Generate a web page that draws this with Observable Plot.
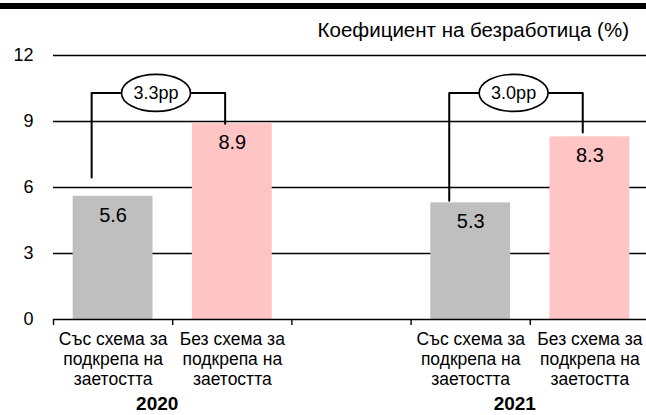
<!DOCTYPE html>
<html><head><meta charset="utf-8">
<script src="https://cdn.jsdelivr.net/npm/d3@7"></script>
<script src="https://cdn.jsdelivr.net/npm/@observablehq/plot@0.6"></script>
<style>
body{margin:0;background:#fff;font-family:"Liberation Sans",Arial,sans-serif;}
#wrap{position:relative;width:646px;height:415px;overflow:hidden;background:#fff}
#chart{position:absolute;left:0;top:0}
#topbar{position:absolute;left:0;top:3px;width:646px;height:6px;background:#000;z-index:2}
#title{position:absolute;right:17px;top:18px;font-size:20.5px;line-height:24px;color:#000;z-index:2;white-space:nowrap}
</style></head><body>
<div id="wrap"><div id="chart"></div><div id="topbar"></div><div id="title">Коефициент на безработица (%)</div></div>
<script>
const years = ["2020", "2021"];
const categories = ["Със схема за\nподкрепа на\nзаетостта", "Без схема за\nподкрепа на\nзаетостта"];
const withScheme = [5.6, 5.3];
const withoutScheme = [8.9, 8.3];
const gapLabels = ["3.3pp", "3.0pp"];
const bracketLeftLow = [6.45, 5.4];
const bracketRightLow = [8.9, 8.5];
const bracketTop = [10.3, 10.3];
const yTicks = [0, 3, 6, 9, 12];
const colors = ["#bfbfbf", "#ffc4c4"];

// build bar table: group g occupies slots g*3 and g*3+1 (slot g*3+2 empty)
const bars = [];
years.forEach((y, g) => {
  bars.push({year: y, k: 0, slot: g * 3, value: withScheme[g], cat: categories[0]});
  bars.push({year: y, k: 1, slot: g * 3 + 1, value: withoutScheme[g], cat: categories[1]});
});
const brackets = years.map((y, g) => ({
  g, label: gapLabels[g], top: bracketTop[g],
  xl: g * 3 + 0.32, xr: g * 3 + 1.44, xm: g * 3 + 0.86,
  lowL: bracketLeftLow[g], lowR: bracketRightLow[g]
}));
const bracketPts = brackets.flatMap(b => [
  {g: b.g, x: b.xl, y: b.lowL},
  {g: b.g, x: b.xl, y: b.top},
  {g: b.g, x: b.xr, y: b.top},
  {g: b.g, x: b.xr, y: b.lowR}
]);

const ellipse = {
  draw(ctx) {
    const rx = 34.5, ry = 18.5, k = 0.5523;
    ctx.moveTo(rx, 0);
    ctx.bezierCurveTo(rx, k * ry, k * rx, ry, 0, ry);
    ctx.bezierCurveTo(-k * rx, ry, -rx, k * ry, -rx, 0);
    ctx.bezierCurveTo(-rx, -k * ry, -k * rx, -ry, 0, -ry);
    ctx.bezierCurveTo(k * rx, -ry, rx, -k * ry, rx, 0);
    ctx.closePath();
  }
};

const chart = Plot.plot({
  width: 646,
  height: 415,
  marginTop: 55,
  marginBottom: 96,
  marginLeft: 53,
  marginRight: 0,
  style: {fontFamily: '"Liberation Sans", Arial, sans-serif', color: "#000", background: "transparent"},
  x: {domain: [0, 5], range: [53, 649]},
  y: {domain: [0, 12]},
  marks: [
    Plot.ruleY(yTicks.filter(d => d > 0), {stroke: "#000", strokeWidth: 1.4}),
    Plot.rectY(bars.filter(d => d.k === 0), {x1: d => d.slot + 0.165, x2: d => d.slot + 0.835, y: "value", fill: colors[0]}),
    Plot.rectY(bars.filter(d => d.k === 1), {x1: d => d.slot + 0.165, x2: d => d.slot + 0.835, y: "value", fill: colors[1]}),
    Plot.ruleY([0], {stroke: "#000", strokeWidth: 1.4}),
    Plot.axisX({ticks: [0, 1, 2, 3, 4], tickSize: 6, tickFormat: () => "", label: null, strokeWidth: 1.4}),
    Plot.axisY({ticks: yTicks, tickSize: 0, tickPadding: 20, fontSize: 18, label: null}),
    Plot.text(bars, {x: d => d.slot + 0.5, y: "value", text: d => d.value.toFixed(1), dy: 19, fontSize: 20}),
    Plot.text(bars, {x: d => d.slot + 0.5, y: 0, text: "cat", lineAnchor: "top", dy: 11, fontSize: 17.5, lineHeight: 1.15}),
    Plot.text(years, {x: (d, i) => i * 3 + 0.87, y: () => 0, text: d => d, dy: 84, fontSize: 19, fontWeight: "bold"}),
    Plot.line(bracketPts, {x: "x", y: "y", z: "g", stroke: "#000", strokeWidth: 2}),
    Plot.dot(brackets, {x: "xm", y: "top", symbol: ellipse, r: 5, fill: "#fff", stroke: "#000", strokeWidth: 1.6}),
    Plot.text(brackets, {x: "xm", y: "top", text: "label", fontSize: 18})
  ]
});
document.getElementById("chart").appendChild(chart);
</script>
</body></html>
